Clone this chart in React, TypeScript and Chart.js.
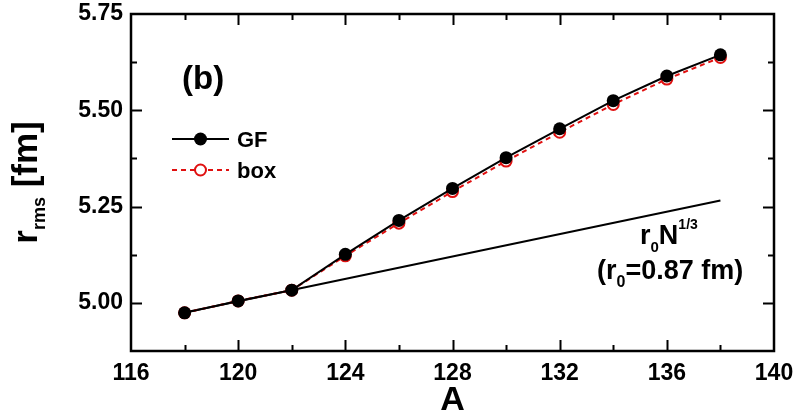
import { useEffect, useRef } from "react";
import { Chart, registerables } from "chart.js";

Chart.register(...registerables);

// Mass numbers of the isotopes
const massNumbers = [118, 120, 122, 124, 126, 128, 130, 132, 134, 136, 138];
// rms radii [fm], Green's function method
const gfRadii = [4.974, 5.005, 5.033, 5.126, 5.214, 5.297, 5.377, 5.452, 5.525, 5.589, 5.644];
// rms radii [fm], box discretisation
const boxRadii = [4.974, 5.005, 5.033, 5.122, 5.207, 5.289, 5.368, 5.443, 5.515, 5.581, 5.637];
// r0 N^(1/3) reference curve
const scalingA = [118, 138];
const scalingRadii = [4.975, 5.266];
// Labelled tick values
const xMajorTicks = [116, 120, 124, 128, 132, 136, 140];
const yMajorTicks = [5.0, 5.25, 5.5, 5.75];

const FONT = "'Liberation Sans', Arial, Helvetica, sans-serif";

const toPoints = (xs: number[], ys: number[]) => xs.map((x, i) => ({ x, y: ys[i] }));
const isMajorX = (v: number) => xMajorTicks.some((t) => Math.abs(t - v) < 1e-6);
const isMajorY = (v: number) => yMajorTicks.some((t) => Math.abs(t - v) < 1e-6);

type Run = { text: string; size: number; dy?: number };

function drawRuns(ctx: CanvasRenderingContext2D, x: number, y: number, runs: Run[]) {
  let cx = x;
  for (const r of runs) {
    ctx.font = `bold ${r.size}px ${FONT}`;
    ctx.fillText(r.text, cx, y + (r.dy || 0));
    cx += ctx.measureText(r.text).width;
  }
  return cx - x;
}

function runsWidth(ctx: CanvasRenderingContext2D, runs: Run[]) {
  let w = 0;
  for (const r of runs) {
    ctx.font = `bold ${r.size}px ${FONT}`;
    w += ctx.measureText(r.text).width;
  }
  return w;
}

const framePlugin = {
  id: "frameAndText",
  afterDatasetsDraw(chart: any) {
    const { ctx, chartArea, scales } = chart;
    const { left, right, top, bottom } = chartArea;
    const xs = scales.x;
    const ys = scales.y;
    ctx.save();
    ctx.strokeStyle = "#000";
    ctx.lineWidth = 2;
    // inward tick marks on all four sides
    for (const t of xs.ticks) {
      const px = Math.round(xs.getPixelForValue(t.value)) + 0.5;
      if (px <= left + 2 || px >= right - 2) continue;
      const len = isMajorX(t.value) ? 11 : 6;
      ctx.beginPath();
      ctx.moveTo(px, bottom);
      ctx.lineTo(px, bottom - len);
      ctx.moveTo(px, top);
      ctx.lineTo(px, top + len);
      ctx.stroke();
    }
    for (const t of ys.ticks) {
      const py = Math.round(ys.getPixelForValue(t.value)) + 0.5;
      if (py <= top + 2 || py >= bottom - 2) continue;
      const len = isMajorY(t.value) ? 11 : 6;
      ctx.beginPath();
      ctx.moveTo(left, py);
      ctx.lineTo(left + len, py);
      ctx.moveTo(right, py);
      ctx.lineTo(right - len, py);
      ctx.stroke();
    }
    ctx.lineWidth = 2.5;
    ctx.strokeRect(left, top, right - left, bottom - top);
    ctx.restore();
  },
  afterDraw(chart: any) {
    const { ctx, chartArea } = chart;
    const { left, right, top, bottom } = chartArea;
    ctx.save();
    ctx.fillStyle = "#000";
    ctx.textBaseline = "alphabetic";
    ctx.textAlign = "left";

    // panel tag
    ctx.font = `bold 33px ${FONT}`;
    ctx.fillText("(b)", 182, 89);

    // legend
    const lx0 = 172;
    const lx1 = 229;
    const lxm = (lx0 + lx1) / 2;
    const gy = 139;
    const by = 170;
    ctx.strokeStyle = "#000";
    ctx.lineWidth = 2;
    ctx.setLineDash([]);
    ctx.beginPath();
    ctx.moveTo(lx0, gy);
    ctx.lineTo(lx1, gy);
    ctx.stroke();
    ctx.beginPath();
    ctx.arc(lxm, gy, 6.5, 0, Math.PI * 2);
    ctx.fill();
    ctx.strokeStyle = "#e01010";
    ctx.setLineDash([5, 4]);
    ctx.beginPath();
    ctx.moveTo(lx0, by);
    ctx.lineTo(lx1, by);
    ctx.stroke();
    ctx.setLineDash([]);
    ctx.fillStyle = "#fff";
    ctx.beginPath();
    ctx.arc(lxm, by, 5.5, 0, Math.PI * 2);
    ctx.fill();
    ctx.stroke();
    ctx.fillStyle = "#000";
    ctx.font = `bold 22px ${FONT}`;
    ctx.fillText("GF", 237, gy + 8);
    ctx.fillText("box", 237, by + 8);

    // scaling-law annotation
    drawRuns(ctx, 640, 244, [
      { text: "r", size: 27 },
      { text: "0", size: 15, dy: 8 },
      { text: "N", size: 27 },
      { text: "1/3", size: 14, dy: -15 },
    ]);
    drawRuns(ctx, 597, 279, [
      { text: "(r", size: 27 },
      { text: "0", size: 16, dy: 8 },
      { text: "=0.87 fm)", size: 27 },
    ]);

    // x-axis title
    ctx.font = `bold 34px ${FONT}`;
    ctx.textAlign = "center";
    ctx.fillText("A", (left + right) / 2, 410);

    // y-axis title
    ctx.textAlign = "left";
    const yRuns: Run[] = [
      { text: "r", size: 35 },
      { text: "rms", size: 18, dy: 8 },
      { text: " [fm]", size: 35 },
    ];
    const w = runsWidth(ctx, yRuns);
    ctx.translate(37, (top + bottom) / 2);
    ctx.rotate(-Math.PI / 2);
    drawRuns(ctx, -w / 2, 0, yRuns);
    ctx.restore();
  },
};

export default function App() {
  const canvasRef = useRef<HTMLCanvasElement | null>(null);

  useEffect(() => {
    document.body.style.margin = "0";
    const canvas = canvasRef.current;
    if (!canvas) return;
    const chart = new Chart(canvas, {
      type: "line",
      data: {
        datasets: [
          {
            label: "GF",
            data: toPoints(massNumbers, gfRadii),
            borderColor: "#000",
            backgroundColor: "#000",
            borderWidth: 2,
            pointRadius: 6.5,
            pointBorderWidth: 0,
            pointBackgroundColor: "#000",
            tension: 0,
            order: 0,
          },
          {
            label: "box",
            data: toPoints(massNumbers, boxRadii),
            borderColor: "#e01010",
            backgroundColor: "#fff",
            borderWidth: 2,
            borderDash: [5, 4],
            pointRadius: 5.5,
            pointBorderWidth: 2,
            pointBorderColor: "#e01010",
            pointBackgroundColor: "#fff",
            tension: 0,
            order: 1,
          },
          {
            label: "r0 N^1/3",
            data: toPoints(scalingA, scalingRadii),
            borderColor: "#000",
            borderWidth: 2,
            pointRadius: 0,
            tension: 0,
            order: 2,
          },
        ],
      },
      options: {
        responsive: false,
        animation: false,
        devicePixelRatio: 1,
        layout: { padding: { left: 0, right: 21, top: 14, bottom: 0 } },
        plugins: {
          legend: { display: false },
          tooltip: { enabled: false },
          title: { display: false },
        },
        scales: {
          x: {
            type: "linear",
            min: 116,
            max: 140,
            grid: { display: false, drawTicks: false },
            border: { display: false },
            ticks: {
              stepSize: 2,
              autoSkip: false,
              maxRotation: 0,
              padding: 9,
              color: "#000",
              font: { family: FONT, size: 23, weight: "bold" },
              callback: (v: any) => (isMajorX(Number(v)) ? String(v) : ""),
            },
            afterFit: (s: any) => {
              s.height = 65;
              s.paddingLeft = 0;
              s.paddingRight = 0;
            },
          },
          y: {
            type: "linear",
            min: 4.875,
            max: 5.75,
            grid: { display: false, drawTicks: false },
            border: { display: false },
            ticks: {
              stepSize: 0.125,
              autoSkip: false,
              padding: 8,
              color: "#000",
              font: { family: FONT, size: 23, weight: "bold" },
              callback: (v: any) => (isMajorY(Number(v)) ? Number(v).toFixed(2) : ""),
            },
            afterFit: (s: any) => {
              s.width = 131;
              s.paddingTop = 0;
              s.paddingBottom = 0;
            },
          },
        },
      },
      plugins: [framePlugin],
    });
    return () => chart.destroy();
  }, []);

  return (
    <div style={{ width: 795, height: 416, background: "#fff" }}>
      <canvas ref={canvasRef} width={795} height={416} />
    </div>
  );
}
